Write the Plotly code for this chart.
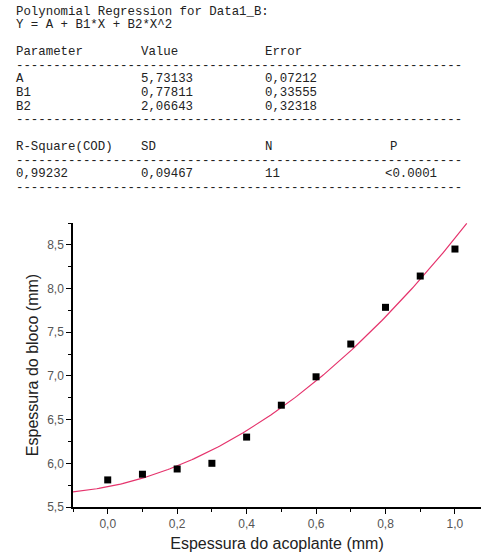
import numpy as np
import plotly.graph_objects as go

# Data
x_vals = [0.0, 0.1, 0.2, 0.3, 0.4, 0.5, 0.6, 0.7, 0.8, 0.9, 1.0]
y_vals = [5.81, 5.875, 5.935, 6.00, 6.30, 6.665, 6.99, 7.365, 7.785, 8.143, 8.452]

# Fit parameters (from the report)
params = ["A", "B1", "B2"]
values = ["5,73133", "0,77811", "2,06643"]
errors = ["0,07212", "0,33555", "0,32318"]
coef_A, coef_B1, coef_B2 = 5.73133, 0.77811, 2.06643
stats_head = ["R-Square(COD)", "SD", "N", "P"]
stats_vals = ["0,99232", "0,09467", "11", "<0.0001"]

W, H = 483, 556
L, R, T, B = 73, 2, 223, 49
pw, ph = W - L - R, H - T - B

fx = np.linspace(-0.1, 1.034, 200)
fy = coef_A + coef_B1 * fx + coef_B2 * fx ** 2

fig = go.Figure()
fig.add_trace(go.Scatter(x=fx, y=fy, mode="lines",
                         line=dict(color="#e5336c", width=1.2), showlegend=False))
fig.add_trace(go.Scatter(x=x_vals, y=y_vals, mode="markers",
                         marker=dict(symbol="square", size=7, color="black"),
                         showlegend=False))

def px2paper(px, py):
    return (px - L) / pw, (H - B - py) / ph

mono = dict(family="Liberation Mono, Courier New, monospace", size=12.4, color="#222")
def txt(s, px, py):
    xp, yp = px2paper(px, py)
    fig.add_annotation(text=s, x=xp, y=yp, xref="paper", yref="paper",
                       xanchor="left", yanchor="middle", showarrow=False, font=mono)

dash = "-" * 60
txt("Polynomial Regression for Data1_B:", 14, 12)
txt("Y = A + B1*X + B2*X^2", 14, 25)
txt("Parameter", 14, 52); txt("Value", 139, 52); txt("Error", 263, 52)
txt(dash, 14, 66)
for i, (p, v, e) in enumerate(zip(params, values, errors)):
    yy = 79 + i * 14
    txt(p, 14, yy); txt(v, 139, yy); txt(e, 263, yy)
txt(dash, 14, 120)
cols = [14, 139, 263, 388]
for c, s in zip(cols, stats_head):
    txt(s, c, 147)
txt(dash, 14, 161)
cols2 = [14, 139, 263, 383]
for c, s in zip(cols2, stats_vals):
    txt(s, c, 174)
txt(dash, 14, 188)

axis_common = dict(showline=True, linecolor="black", linewidth=1.5, ticks="outside",
                   ticklen=5, tickwidth=1.2, tickcolor="black", showgrid=False,
                   zeroline=False, mirror=False,
                   tickfont=dict(family="Liberation Sans, Arial", size=12, color="#555"),
                   tickformat=".1f")
fig.update_xaxes(range=[-0.1, 1.075], dtick=0.2, tick0=0,
                 minor=dict(dtick=0.1, tick0=0, ticks="outside", ticklen=3, tickcolor="black"),
                 title=dict(text="Espessura do acoplante (mm)", standoff=8,
                            font=dict(family="Liberation Sans, Arial", size=16, color="#222")),
                 **axis_common)
fig.update_yaxes(range=[5.5, 8.75], dtick=0.5, tick0=5.5,
                 minor=dict(dtick=0.25, tick0=5.5, ticks="outside", ticklen=3, tickcolor="black"),
                 title=dict(text="Espessura do bloco (mm)", standoff=5,
                            font=dict(family="Liberation Sans, Arial", size=16, color="#222")),
                 **axis_common)
fig.update_layout(width=W, height=H, margin=dict(l=L, r=R, t=T, b=B),
                  plot_bgcolor="white", paper_bgcolor="white", separators=",.")
fig.write_html("out.html")
